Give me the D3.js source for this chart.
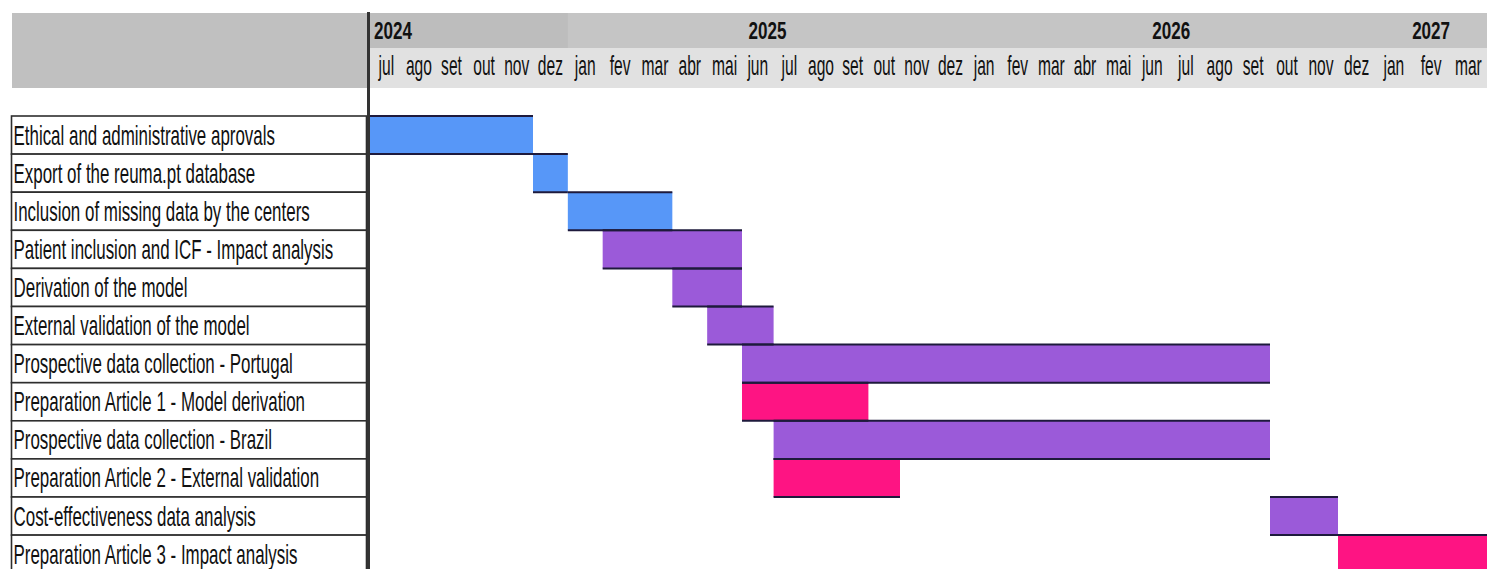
<!DOCTYPE html>
<html>
<head>
<meta charset="utf-8">
<script src="https://cdn.jsdelivr.net/npm/d3@7"></script>
<style>
  html, body { margin: 0; padding: 0; background: #ffffff; }
  svg { display: block; }
  text { font-family: "Liberation Sans Narrow", "Liberation Sans", "DejaVu Sans Condensed", sans-serif; fill: #111; }
</style>
</head>
<body>
<svg id="chart" width="1487" height="569"></svg>
<script>
// ---------------- DATA ----------------
const monthLabels = ["jul","ago","set","out","nov","dez",
  "jan","fev","mar","abr","mai","jun","jul","ago","set","out","nov","dez",
  "jan","fev","mar","abr","mai","jun","jul","ago","set","out","nov","dez",
  "jan","fev","mar"];
const monthKeys = ["2024-07","2024-08","2024-09","2024-10","2024-11","2024-12",
  "2025-01","2025-02","2025-03","2025-04","2025-05","2025-06","2025-07","2025-08","2025-09","2025-10","2025-11","2025-12",
  "2026-01","2026-02","2026-03","2026-04","2026-05","2026-06","2026-07","2026-08","2026-09","2026-10","2026-11","2026-12",
  "2027-01","2027-02","2027-03"];
const years = ["2024","2025","2026","2027"];

const tasks = [
  "Ethical and administrative aprovals",
  "Export of the reuma.pt database",
  "Inclusion of missing data by the centers",
  "Patient inclusion and ICF - Impact analysis",
  "Derivation of the model",
  "External validation of the model",
  "Prospective data collection - Portugal",
  "Preparation Article 1 - Model derivation",
  "Prospective data collection - Brazil",
  "Preparation Article 2 - External validation",
  "Cost-effectiveness data analysis",
  "Preparation Article 3 - Impact analysis"
];
// first and last month (inclusive) of each task
const taskStart = ["2024-07","2024-12","2025-01","2025-02","2025-04","2025-05","2025-06","2025-06","2025-07","2025-07","2026-10","2026-12"];
const taskEnd   = ["2024-11","2024-12","2025-03","2025-05","2025-05","2025-06","2026-09","2025-09","2026-09","2025-10","2026-11","2027-03"];
const taskType  = ["setup","setup","setup","analysis","analysis","analysis","analysis","article","analysis","article","analysis","article"];

// ---------------- LAYOUT ----------------
const W = 1487, H = 569;
const typeColor = d3.scaleOrdinal()
  .domain(["setup","analysis","article"])
  .range(["#5797f8","#9b5ad9","#fe1483"]);

// time scale (spreadsheet columns have slightly different widths)
const x = d3.scaleLinear()
  .domain([0, 5, 11, 16, 27, 29, 33])
  .range([370, 533, 742, 900, 1270, 1338, 1487]);
const mIndex = k => monthKeys.indexOf(k);

const rowH = 38.1, rowTop = 116;
const y = d3.scaleBand().domain(tasks).range([rowTop, rowTop + rowH * tasks.length]).paddingInner(0).paddingOuter(0);

const svg = d3.select("#chart");

// helper: horizontal compression factor so that a sample string gets a target width
function fitFactor(sample, size, weight, target) {
  const t = svg.append("text").style("font-size", size + "px").style("font-weight", weight).text(sample);
  const w = t.node().getComputedTextLength();
  t.remove();
  return w > 0 ? target / w : 1;
}
const lSX = fitFactor("Patient inclusion and ICF - Impact analysis", 27, "normal", 320);
const mSX = fitFactor("ago", 27, "normal", 26);
const ySX = fitFactor("2024", 23, "bold", 38);

// header backgrounds
svg.append("rect").attr("x", 12).attr("y", 13).attr("width", 355).attr("height", 75).attr("fill", "#c0c0c0");
svg.append("rect").attr("x", 370).attr("y", 13).attr("width", W - 370).attr("height", 35).attr("fill", "#c5c5c5");
svg.append("rect").attr("x", 370).attr("y", 48).attr("width", W - 370).attr("height", 40).attr("fill", "#e1e1e1");

// year cells
const yearSpans = years.map(yr => {
  const idx = monthKeys.map((k, i) => k.startsWith(yr) ? i : -1).filter(i => i >= 0);
  return { year: yr, s: d3.min(idx), e: d3.max(idx) + 1 };
});
svg.append("rect")
  .attr("x", x(yearSpans[0].s)).attr("y", 13)
  .attr("width", x(yearSpans[0].e) - x(yearSpans[0].s)).attr("height", 35)
  .attr("fill", "#bdbdbd");

svg.append("g").selectAll("text").data(yearSpans).join("text")
  .attr("transform", (d, i) => {
    const cx = i === 0 ? x(d.s) + 4 : (x(d.s) + x(d.e)) / 2;
    return `translate(${cx},38.5) scale(${ySX},1)`;
  })
  .attr("text-anchor", (d, i) => i === 0 ? "start" : "middle")
  .style("font-size", "23px").style("font-weight", "bold")
  .text(d => d.year);

// month labels
svg.append("g").selectAll("text").data(monthLabels).join("text")
  .attr("transform", (d, i) => `translate(${(x(i) + x(i + 1)) / 2},75) scale(${mSX},1)`)
  .attr("text-anchor", "middle")
  .style("font-size", "27px")
  .text(d => d);

// task label boxes
const labels = svg.append("g");
labels.selectAll("rect").data(tasks).join("rect")
  .attr("x", 11.5).attr("y", d => y(d))
  .attr("width", 355).attr("height", y.bandwidth())
  .attr("fill", "#fff").attr("stroke", "#2e2e2e").attr("stroke-width", 1.6);
labels.selectAll("text").data(tasks).join("text")
  .attr("transform", d => `translate(13.5,${y(d) + 28.5}) scale(${lSX},1)`)
  .style("font-size", "27px")
  .text(d => d);

// bars
const barData = tasks.map((t, i) => ({
  task: t, s: mIndex(taskStart[i]), e: mIndex(taskEnd[i]) + 1, type: taskType[i]
}));
const bars = svg.append("g");
bars.selectAll("rect").data(barData).join("rect")
  .attr("x", d => x(d.s)).attr("y", d => y(d.task))
  .attr("width", d => x(d.e) - x(d.s)).attr("height", y.bandwidth())
  .attr("fill", d => typeColor(d.type));
bars.selectAll("line.top").data(barData).join("line").attr("class", "top")
  .attr("x1", d => x(d.s)).attr("x2", d => x(d.e))
  .attr("y1", d => y(d.task)).attr("y2", d => y(d.task))
  .attr("stroke", "#1e1a3c").attr("stroke-width", 2);
bars.selectAll("line.bot").data(barData).join("line").attr("class", "bot")
  .attr("x1", d => x(d.s)).attr("x2", d => x(d.e))
  .attr("y1", d => y(d.task) + y.bandwidth()).attr("y2", d => y(d.task) + y.bandwidth())
  .attr("stroke", "#1e1a3c").attr("stroke-width", 2);

// vertical divider
svg.append("line")
  .attr("x1", 368.5).attr("x2", 368.5).attr("y1", 12).attr("y2", H)
  .attr("stroke", "#333").attr("stroke-width", 3);
</script>
</body>
</html>
